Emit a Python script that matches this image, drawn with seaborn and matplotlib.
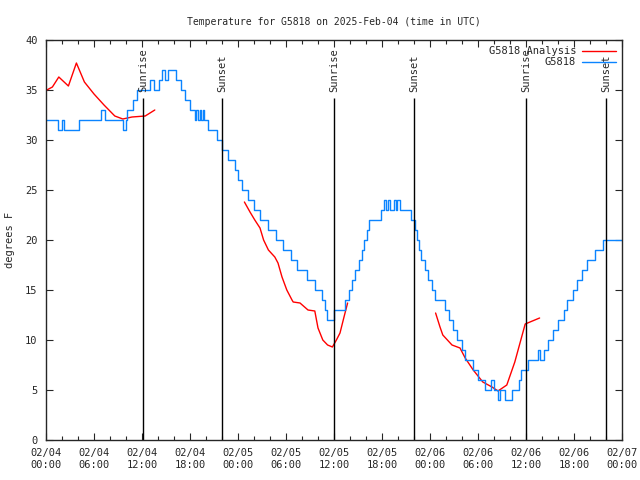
import pandas as pd
import numpy as np
import seaborn as sns
import matplotlib.pyplot as plt
import matplotlib.dates as mdates

# hours after 2025-02-04 00:00 UTC
obs_hours = [0.0, 1.54, 1.96, 2.25, 4.16, 6.9, 7.4, 9.67, 10.0, 10.1, 10.9, 11.4, 13.0, 13.5, 14.1,
             14.5, 14.9, 15.25, 16.25, 16.9, 17.4, 18.0, 18.6, 18.8, 19.0, 19.2, 19.4, 19.6, 19.8,
             20.25, 21.4, 22.0, 22.75, 23.6, 24.0, 24.5, 25.25, 26.0, 26.75, 27.75, 28.75, 29.6,
             30.6, 31.4, 32.6, 33.6, 34.5, 34.9, 35.1, 36.05, 37.4, 37.9, 38.25, 38.6, 39.1, 39.5,
             39.75, 40.1, 40.4, 41.9, 42.25, 42.5, 42.75, 43.0, 43.5, 43.75, 43.9, 44.25, 45.6,
             46.1, 46.4, 46.6, 46.9, 47.4, 47.75, 48.25, 48.6, 49.9, 50.4, 50.9, 51.4, 52.0, 52.4,
             53.4, 54.0, 54.9, 55.6, 56.0, 56.5, 56.75, 57.4, 58.25, 59.1, 59.4, 60.25, 61.5,
             61.75, 62.25, 62.75, 63.4, 64.0, 64.75, 65.1, 65.9, 66.4, 67.0, 67.6, 68.6, 69.6, 72.0]
obs_temp = [32, 31, 32, 31, 32, 33, 32, 31, 32, 33, 34, 35, 36, 35, 36,
            37, 36, 37, 36, 35, 34, 33, 32, 33, 32, 33, 32, 33, 32,
            31, 30, 29, 28, 27, 26, 25, 24, 23, 22, 21, 20, 19,
            18, 17, 16, 15, 14, 13, 12, 13, 14, 15, 16, 17, 18, 19,
            20, 21, 22, 23, 24, 23, 24, 23, 24, 23, 24, 23, 22,
            21, 20, 19, 18, 17, 16, 15, 14, 13, 12, 11, 10, 9, 8,
            7, 6, 5, 6, 5, 4, 5, 4, 5, 6, 7, 8, 9,
            8, 9, 10, 11, 12, 13, 14, 15, 16, 17, 18, 19, 20, 20]

ana_hours = [0.1, 0.8, 1.6, 2.8, 3.8, 4.8, 6.0, 7.25, 8.6, 9.6, 10.75, 12.4, 13.6,
             24.8, 25.5, 26.1, 26.75, 27.2, 27.8, 28.6, 29.0, 29.5, 30.1, 30.75, 30.9, 31.75,
             32.75, 33.6, 34.0, 34.6, 35.2, 35.8, 36.3, 36.75, 37.25, 37.7,
             48.7, 49.25, 49.6, 50.75, 51.75, 52.4, 53.4, 54.6, 55.75, 56.5, 57.6, 58.6, 59.25,
             59.9, 60.5, 61.7]
ana_temp = [35.0, 35.3, 36.3, 35.4, 37.7, 35.8, 34.6, 33.5, 32.4, 32.1, 32.3, 32.4, 33.0,
            23.8, 22.8, 22.0, 21.2, 20.0, 19.0, 18.3, 17.7, 16.3, 15.0, 14.0, 13.8, 13.7,
            13.0, 12.9, 11.2, 10.0, 9.5, 9.3, 10.0, 10.7, 12.3, 13.7,
            12.7, 11.3, 10.5, 9.5, 9.2, 8.2, 7.0, 5.8, 5.3, 4.9, 5.5, 7.8, 9.7,
            11.6, 11.8, 12.2]
ana_segment = [1] * 13 + [2] * 23 + [3] * 16

sun_hours = [12.1, 22.0, 36.05, 46.0, 60.0, 70.0]
sun_labels = ['Sunrise', 'Sunset', 'Sunrise', 'Sunset', 'Sunrise', 'Sunset']

start = pd.Timestamp('2025-02-04 00:00')
obs = pd.DataFrame({'time': start + pd.to_timedelta(obs_hours, unit='h'), 'temp': obs_temp})
ana = pd.DataFrame({'time': start + pd.to_timedelta(ana_hours, unit='h'), 'temp': ana_temp,
                    'seg': ana_segment})
sun_times = start + pd.to_timedelta(sun_hours, unit='h')

sns.set_style('ticks')
plt.rcParams['font.family'] = ['DejaVu Sans Mono']
plt.rcParams['font.size'] = 7

fig = plt.figure(figsize=(6.4, 4.8), dpi=100)
ax = fig.add_axes([46 / 640, 40 / 480, 576 / 640, 400 / 480])

sns.lineplot(data=ana, x='time', y='temp', units='seg', estimator=None, color='#ff0000',
             lw=1.0, ax=ax, legend=False)
sns.lineplot(data=obs, x='time', y='temp', color='#0a84ff', lw=1.0, drawstyle='steps-post',
             ax=ax, legend=False)

ax.vlines(sun_times, 0, 34.2, color='black', lw=1.0)
for t, lab in zip(sun_times, sun_labels):
    ax.text(t, 34.8, lab, rotation=90, ha='center', va='bottom', fontsize=7.5)

ax.set_xlim(start, start + pd.Timedelta(hours=72))
ax.set_ylim(0, 40)
ax.set_yticks(range(0, 41, 5))
ax.xaxis.set_major_locator(mdates.HourLocator(byhour=[0, 6, 12, 18]))
ax.xaxis.set_minor_locator(mdates.HourLocator(byhour=range(0, 24, 2)))
ax.xaxis.set_major_formatter(mdates.DateFormatter('%m/%d\n%H:%M'))
ax.tick_params(which='both', direction='in', top=True, right=True, labelsize=7.5, width=0.8)
ax.tick_params(which='major', length=5, pad=6)
ax.tick_params(which='minor', length=3)
for s in ax.spines.values():
    s.set_linewidth(1.0)

ax.set_xlabel('')
ax.set_ylabel('degrees F', fontsize=7.5, labelpad=7)
ax.set_title('Temperature for G5818 on 2025-Feb-04 (time in UTC)', fontsize=7, pad=11)

handles = [plt.Line2D([], [], color='#ff0000', lw=1.0), plt.Line2D([], [], color='#0a84ff', lw=1.0)]
ax.legend(handles, ['G5818 Analysis', 'G5818'], loc='upper right', frameon=False,
          markerfirst=False, fontsize=7.5, handlelength=3.2, borderaxespad=0.2,
          labelspacing=0.1, handletextpad=0.6)

fig.savefig('out.png', dpi=100)
